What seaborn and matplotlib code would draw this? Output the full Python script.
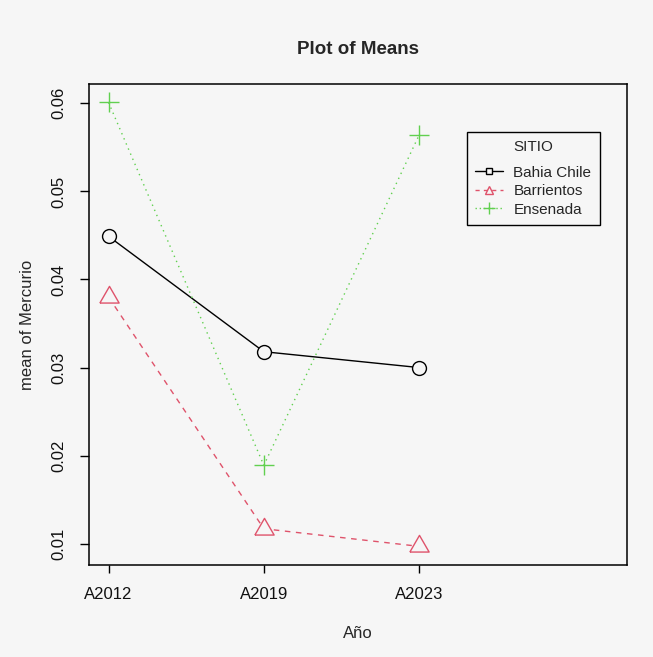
import seaborn as sns
import matplotlib.pyplot as plt
import pandas as pd
from matplotlib.lines import Line2D

sns.set_theme(style="white")
plt.rcParams["font.family"] = ["Liberation Sans", "DejaVu Sans"]

# data
years = ["A2012", "A2019", "A2023"]
sites = ["Bahia Chile", "Barrientos", "Ensenada"]
bahia_chile = [0.0449, 0.0318, 0.0300]
barrientos = [0.0380, 0.0117, 0.0097]
ensenada = [0.0601, 0.0189, 0.0564]
yticks = [0.01, 0.02, 0.03, 0.04, 0.05, 0.06]

df = pd.DataFrame({
    "Año": years * 3,
    "SITIO": [s for s in sites for _ in years],
    "Mercurio": bahia_chile + barrientos + ensenada,
})

bg = "#f6f6f6"
colors = {"Bahia Chile": "black", "Barrientos": "#DF536B", "Ensenada": "#61D04F"}
styles = {"Bahia Chile": "-", "Barrientos": (0, (4, 4)), "Ensenada": (0, (1, 3))}
# open triangle centred on its centroid, like R's pch 2
tri = [(-1, -0.577), (1, -0.577), (0, 1.155), (-1, -0.577)]
markers = {"Bahia Chile": ("o", 10), "Barrientos": (tri, 16), "Ensenada": ("+", 14)}

fig = plt.figure(figsize=(6.53, 6.57), dpi=100, facecolor=bg)
ax = fig.add_axes([0.1363, 0.1396, 0.8234, 0.733])
ax.set_facecolor(bg)

for site in sites:
    sub = df[df["SITIO"] == site]
    m, ms = markers[site]
    sns.lineplot(data=sub, x="Año", y="Mercurio", ax=ax, sort=False,
                 color=colors[site], linestyle=styles[site], linewidth=1.0,
                 marker=m, markersize=ms, mfc=bg, mec=colors[site], mew=1.0)

ax.set_xlim(-0.126, 3.337)
ax.set_ylim(0.00755, 0.06223)
ax.set_yticks(yticks)
ax.set_yticklabels([f"{v:.2f}" for v in yticks], rotation=90, va="center")
ax.tick_params(axis="both", direction="out", color="black", labelsize=12,
               left=True, bottom=True, labelcolor="#111111")
ax.tick_params(axis="y", length=6.5, width=1.0, pad=9.5)
ax.tick_params(axis="x", length=6, width=1.0, pad=9.5)
for sp in ax.spines.values():
    sp.set_color("black")
    sp.set_linewidth(1.1)

ax.set_title("Plot of Means", fontsize=13.5, fontweight="bold", pad=21.5)
ax.set_xlabel("Año", fontsize=12)
ax.set_ylabel("mean of Mercurio", fontsize=12)
ax.xaxis.set_label_coords(0.5, -0.126)
ax.yaxis.set_label_coords(-0.100, 0.5)

handles = [
    Line2D([], [], color="black", linestyle="-", linewidth=1.0,
           marker="s", markersize=4, mfc=bg, mec="black"),
    Line2D([], [], color="#DF536B", linestyle=(0, (3, 3)), linewidth=1.0,
           marker="^", markersize=6, mfc=bg, mec="#DF536B"),
    Line2D([], [], color="#61D04F", linestyle=(0, (1, 2)), linewidth=1.0,
           marker="+", markersize=8, mec="#61D04F"),
]
leg = ax.legend(handles, sites, title="SITIO", loc="upper left",
                bbox_to_anchor=(0.7024, 0.8997), borderaxespad=0,
                fontsize=11, title_fontsize=11, fancybox=False,
                frameon=True, edgecolor="black", facecolor=bg, framealpha=1,
                handlelength=1.8, handletextpad=0.7, labelspacing=0.3,
                borderpad=0.55)
leg.get_frame().set_linewidth(1.0)
leg._legend_box.sep = 8

fig.savefig("out.png", dpi=100, facecolor=bg)
plt.close()
